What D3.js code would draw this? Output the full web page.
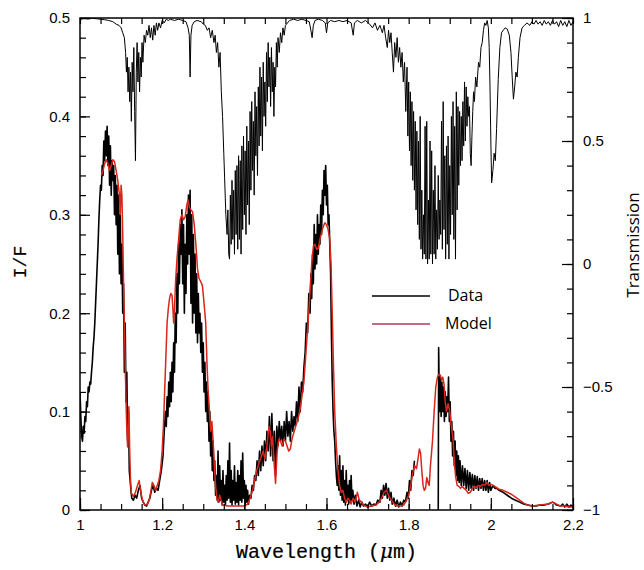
<!DOCTYPE html>
<html>
<head>
  <meta charset="utf-8">
  <title>I/F and Transmission</title>
  <script src="https://d3js.org/d3.v7.min.js"></script>
  <style>
    body { margin: 0; background: #fff; }
    .tick text { font-family: "Liberation Sans", Arial, sans-serif; font-size: 15px; fill: #000; }
    .axis path, .axis line { stroke: #000; stroke-width: 1.2px; }
    .label-mono { font-family: "Liberation Mono", "DejaVu Sans Mono", monospace; fill: #000; stroke: #000; stroke-width: 0.2px; }
    .legend text { font-family: "Open Sans", "Noto Sans", sans-serif; font-size: 16px; fill: #000; }
  </style>
</head>
<body>
  <svg width="644" height="570"></svg>
  <script>
    // telluric transmission (right axis): [wavelength um, transmission]
    const transmission = [
      [1.000,0.995],[1.010,0.998],[1.020,0.996],[1.030,0.999],[1.040,0.997],[1.050,0.995],[1.060,0.993],
      [1.070,0.990],[1.080,0.985],[1.088,0.975],[1.095,0.970],[1.100,0.960],[1.104,0.940],[1.108,0.920],
      [1.111,0.860],[1.113,0.780],[1.115,0.840],[1.117,0.700],[1.119,0.800],[1.121,0.660],[1.123,0.780],
      [1.125,0.580],[1.127,0.820],[1.129,0.700],[1.131,0.880],[1.133,0.620],[1.135,0.420],[1.137,0.780],
      [1.139,0.900],[1.141,0.740],[1.143,0.860],[1.145,0.700],[1.147,0.840],[1.149,0.760],[1.151,0.900],
      [1.153,0.820],[1.156,0.930],[1.159,0.900],[1.162,0.950],[1.165,0.930],[1.168,0.970],[1.171,0.920],
      [1.174,0.960],[1.177,0.910],[1.180,0.970],[1.183,0.930],[1.186,0.980],[1.189,0.950],[1.192,0.980],
      [1.196,0.960],[1.200,0.990],[1.205,0.980],[1.210,0.995],[1.215,0.990],[1.220,0.995],[1.230,0.990],
      [1.240,0.995],[1.250,0.990],[1.258,0.985],[1.263,0.960],[1.266,0.930],[1.268,0.760],[1.270,0.930],
      [1.273,0.970],[1.278,0.985],[1.285,0.990],[1.295,0.985],[1.300,0.975],[1.305,0.970],[1.310,0.950],
      [1.314,0.960],[1.318,0.920],[1.322,0.950],[1.326,0.900],[1.329,0.930],[1.332,0.860],[1.335,0.900],
      [1.338,0.800],[1.341,0.860],[1.344,0.700],[1.347,0.600],[1.350,0.450],[1.352,0.350],[1.355,0.200],
      [1.358,0.120],[1.360,0.220],[1.362,0.040],[1.364,0.020],[1.366,0.280],[1.368,0.080],[1.370,0.340],
      [1.372,0.100],[1.374,0.300],[1.376,0.040],[1.378,0.380],[1.380,0.120],[1.382,0.400],[1.384,0.060],
      [1.386,0.440],[1.388,0.100],[1.390,0.420],[1.392,0.040],[1.394,0.480],[1.396,0.140],[1.398,0.520],
      [1.400,0.200],[1.402,0.460],[1.404,0.120],[1.406,0.560],[1.408,0.240],[1.410,0.500],[1.412,0.160],
      [1.414,0.620],[1.416,0.300],[1.418,0.660],[1.420,0.380],[1.422,0.580],[1.424,0.280],[1.426,0.700],
      [1.428,0.440],[1.430,0.640],[1.432,0.360],[1.434,0.720],[1.436,0.480],[1.438,0.800],[1.440,0.520],
      [1.442,0.760],[1.444,0.460],[1.446,0.820],[1.448,0.600],[1.450,0.740],[1.452,0.560],[1.454,0.860],
      [1.456,0.660],[1.458,0.900],[1.460,0.720],[1.462,0.840],[1.464,0.640],[1.466,0.880],[1.468,0.700],
      [1.470,0.820],[1.472,0.600],[1.474,0.800],[1.476,0.720],[1.478,0.900],[1.480,0.800],[1.482,0.920],
      [1.485,0.860],[1.488,0.940],[1.491,0.900],[1.494,0.960],[1.497,0.930],[1.500,0.970],[1.505,0.980],
      [1.510,0.990],[1.520,0.995],[1.530,0.990],[1.540,0.995],[1.550,0.990],[1.558,0.985],[1.562,0.950],
      [1.565,0.920],[1.568,0.970],[1.572,0.990],[1.580,0.995],[1.590,0.990],[1.597,0.980],[1.600,0.940],
      [1.603,0.980],[1.610,0.990],[1.620,0.985],[1.630,0.990],[1.640,0.985],[1.650,0.990],[1.660,0.980],
      [1.665,0.930],[1.668,0.980],[1.675,0.990],[1.685,0.980],[1.695,0.990],[1.705,0.975],[1.712,0.960],
      [1.718,0.980],[1.724,0.950],[1.730,0.970],[1.736,0.940],[1.740,0.970],[1.744,0.920],[1.748,0.880],
      [1.751,0.950],[1.754,0.900],[1.757,0.940],[1.760,0.860],[1.763,0.780],[1.766,0.900],[1.769,0.840],
      [1.772,0.920],[1.775,0.820],[1.778,0.880],[1.781,0.800],[1.784,0.860],[1.787,0.740],[1.790,0.820],
      [1.793,0.620],[1.796,0.800],[1.798,0.520],[1.800,0.740],[1.802,0.460],[1.804,0.700],[1.806,0.400],
      [1.808,0.660],[1.810,0.340],[1.812,0.620],[1.814,0.300],[1.816,0.580],[1.818,0.220],[1.820,0.540],
      [1.822,0.160],[1.824,0.500],[1.826,0.100],[1.828,0.600],[1.830,0.060],[1.832,0.300],[1.834,0.020],
      [1.836,0.200],[1.838,0.040],[1.840,0.560],[1.842,0.020],[1.844,0.580],[1.846,0.000],[1.848,0.260],
      [1.850,0.020],[1.852,0.500],[1.854,0.040],[1.856,0.460],[1.858,0.000],[1.860,0.300],[1.862,0.040],
      [1.864,0.400],[1.866,0.020],[1.868,0.220],[1.870,0.060],[1.872,0.360],[1.874,0.100],[1.876,0.260],
      [1.878,0.120],[1.880,0.580],[1.882,0.060],[1.884,0.660],[1.886,0.140],[1.888,0.440],[1.890,0.020],
      [1.892,0.480],[1.894,0.080],[1.896,0.520],[1.898,0.020],[1.900,0.400],[1.902,0.120],[1.904,0.600],
      [1.906,0.200],[1.908,0.660],[1.910,0.100],[1.912,0.560],[1.914,0.020],[1.916,0.700],[1.918,0.220],
      [1.920,0.640],[1.922,0.320],[1.924,0.620],[1.926,0.400],[1.928,0.600],[1.930,0.420],[1.932,0.660],
      [1.934,0.480],[1.936,0.740],[1.938,0.500],[1.940,0.720],[1.942,0.560],[1.944,0.680],[1.946,0.600],
      [1.948,0.640],[1.950,0.450],[1.952,0.400],[1.954,0.520],[1.956,0.620],[1.958,0.700],[1.960,0.660],
      [1.963,0.760],[1.966,0.720],[1.970,0.820],[1.973,0.800],[1.976,0.880],[1.979,0.900],[1.982,0.950],
      [1.985,0.980],[1.988,0.970],[1.991,0.990],[1.994,0.960],[1.996,0.880],[1.998,0.720],[2.000,0.500],
      [2.002,0.330],[2.005,0.380],[2.008,0.450],[2.011,0.420],[2.014,0.550],[2.018,0.750],[2.022,0.880],
      [2.026,0.940],[2.030,0.950],[2.035,0.960],[2.040,0.955],[2.045,0.930],[2.049,0.860],[2.052,0.760],
      [2.055,0.670],[2.058,0.720],[2.061,0.780],[2.064,0.760],[2.067,0.840],[2.071,0.920],[2.076,0.960],
      [2.082,0.970],[2.088,0.980],[2.095,0.970],[2.100,0.985],[2.105,0.975],[2.110,0.990],[2.115,0.975],
      [2.120,0.985],[2.125,0.970],[2.130,0.990],[2.135,0.975],[2.140,0.985],[2.145,0.970],[2.150,0.990],
      [2.155,0.975],[2.160,0.985],[2.165,0.965],[2.170,0.990],[2.175,0.970],[2.180,0.985],[2.185,0.965],
      [2.190,0.990],[2.195,0.970],[2.200,0.985]
    ];

    // observed I/F (left axis); null marks the gap in the data
    const observed = [
      [1.000,0.120],[1.002,0.095],[1.004,0.075],[1.006,0.070],[1.008,0.085],[1.010,0.078],[1.012,0.095],
      [1.014,0.090],[1.016,0.110],[1.018,0.105],[1.020,0.125],[1.022,0.120],[1.024,0.130],[1.026,0.128],
      [1.028,0.140],[1.030,0.150],[1.032,0.165],[1.034,0.175],[1.036,0.190],[1.038,0.210],[1.040,0.230],
      [1.042,0.250],[1.044,0.270],[1.046,0.295],[1.048,0.315],[1.050,0.330],[1.052,0.325],[1.054,0.350],
      [1.056,0.340],[1.058,0.375],[1.060,0.355],[1.062,0.385],[1.064,0.360],[1.066,0.390],[1.068,0.350],
      [1.070,0.380],[1.072,0.330],[1.074,0.370],[1.076,0.320],[1.078,0.355],[1.080,0.335],[1.082,0.350],
      [1.084,0.300],[1.086,0.340],[1.088,0.290],[1.090,0.330],[1.092,0.260],[1.094,0.320],[1.096,0.240],
      [1.098,0.300],[1.100,0.230],[1.102,0.270],[1.104,0.200],[1.106,0.230],[1.108,0.140],[1.110,0.190],
      [1.112,0.110],[1.114,0.140],[1.116,0.070],[1.118,0.100],[1.120,0.040],[1.122,0.030],[1.124,0.020],
      [1.126,0.012],[1.130,0.010],[1.134,0.015],[1.138,0.012],[1.142,0.020],[1.146,0.025],[1.150,0.012],
      [1.154,0.008],[1.158,0.005],[1.162,0.004],[1.166,0.008],[1.170,0.012],[1.174,0.020],[1.178,0.025],
      [1.182,0.018],[1.186,0.022],[1.190,0.020],[1.194,0.030],[1.198,0.040],[1.202,0.055],[1.205,0.080],
      [1.208,0.100],[1.210,0.085],[1.212,0.115],[1.214,0.095],[1.216,0.130],[1.218,0.105],[1.220,0.140],
      [1.222,0.110],[1.224,0.150],[1.226,0.120],[1.228,0.170],[1.230,0.140],[1.232,0.200],[1.234,0.170],
      [1.236,0.240],[1.238,0.200],[1.240,0.270],[1.242,0.230],[1.244,0.290],[1.246,0.260],[1.248,0.305],
      [1.250,0.230],[1.252,0.290],[1.254,0.200],[1.256,0.270],[1.258,0.220],[1.260,0.300],[1.262,0.250],
      [1.264,0.320],[1.266,0.260],[1.268,0.325],[1.270,0.210],[1.272,0.300],[1.274,0.190],[1.276,0.280],
      [1.278,0.200],[1.280,0.260],[1.282,0.180],[1.284,0.240],[1.286,0.170],[1.288,0.220],[1.290,0.180],
      [1.292,0.200],[1.294,0.160],[1.296,0.190],[1.298,0.140],[1.300,0.170],[1.302,0.120],[1.304,0.150],
      [1.306,0.100],[1.308,0.130],[1.310,0.090],[1.312,0.120],[1.314,0.070],[1.316,0.100],[1.318,0.055],
      [1.320,0.085],[1.322,0.040],[1.324,0.070],[1.326,0.030],[1.328,0.050],[1.330,0.015],[1.332,0.035],
      [1.334,0.010],[1.336,0.060],[1.338,0.008],[1.340,0.045],[1.342,0.010],[1.344,0.030],[1.346,0.005],
      [1.348,0.040],[1.350,0.008],[1.352,0.025],[1.354,0.005],[1.356,0.035],[1.358,0.010],[1.360,0.050],
      [1.362,0.012],[1.364,0.068],[1.366,0.008],[1.368,0.040],[1.370,0.005],[1.372,0.030],[1.374,0.010],
      [1.376,0.045],[1.378,0.006],[1.380,0.028],[1.382,0.008],[1.384,0.040],[1.386,0.005],[1.388,0.035],
      [1.390,0.010],[1.392,0.050],[1.394,0.008],[1.396,0.058],[1.398,0.012],[1.400,0.030],[1.402,0.006],
      [1.404,0.025],[1.406,0.008],[1.408,0.020],[1.410,0.006],[1.413,0.015],[1.416,0.012],[1.419,0.025],
      [1.422,0.020],[1.425,0.035],[1.428,0.030],[1.431,0.050],[1.434,0.035],[1.437,0.060],[1.440,0.040],
      [1.443,0.065],[1.446,0.045],[1.449,0.070],[1.452,0.050],[1.455,0.080],[1.458,0.060],[1.461,0.095],
      [1.464,0.055],[1.467,0.098],[1.470,0.050],[1.473,0.080],[1.476,0.035],[1.479,0.085],[1.482,0.065],
      [1.485,0.090],[1.488,0.070],[1.491,0.085],[1.494,0.065],[1.497,0.090],[1.500,0.070],[1.503,0.100],
      [1.506,0.075],[1.509,0.090],[1.512,0.070],[1.515,0.100],[1.518,0.080],[1.521,0.095],[1.524,0.085],
      [1.527,0.110],[1.530,0.090],[1.533,0.125],[1.536,0.100],[1.539,0.130],[1.542,0.120],[1.545,0.145],
      [1.548,0.160],[1.551,0.190],[1.554,0.180],[1.557,0.220],[1.560,0.200],[1.562,0.240],[1.564,0.215],
      [1.566,0.260],[1.568,0.230],[1.570,0.290],[1.572,0.245],[1.574,0.280],[1.576,0.250],[1.578,0.300],
      [1.580,0.260],[1.582,0.290],[1.584,0.270],[1.586,0.310],[1.588,0.280],[1.590,0.325],[1.592,0.300],
      [1.594,0.345],[1.596,0.320],[1.598,0.350],[1.600,0.310],[1.602,0.330],[1.604,0.290],[1.606,0.300],
      [1.608,0.270],[1.610,0.240],[1.612,0.180],[1.614,0.130],[1.616,0.100],[1.618,0.080],[1.620,0.070],
      [1.622,0.050],[1.624,0.035],[1.626,0.025],[1.628,0.045],[1.630,0.020],[1.632,0.055],[1.634,0.015],
      [1.636,0.040],[1.638,0.010],[1.640,0.045],[1.642,0.008],[1.644,0.030],[1.646,0.005],[1.648,0.040],
      [1.650,0.010],[1.652,0.025],[1.654,0.006],[1.656,0.030],[1.658,0.008],[1.660,0.035],[1.662,0.010],
      [1.664,0.020],[1.667,0.006],[1.670,0.015],[1.674,0.004],[1.678,0.010],[1.682,0.003],[1.686,0.008],
      [1.690,0.004],[1.695,0.006],[1.700,0.003],[1.705,0.008],[1.710,0.004],[1.715,0.006],[1.720,0.005],
      [1.725,0.010],[1.730,0.008],[1.733,0.020],[1.736,0.012],[1.739,0.025],[1.742,0.015],[1.745,0.027],
      [1.748,0.012],[1.751,0.022],[1.754,0.010],[1.757,0.018],[1.760,0.006],[1.764,0.012],[1.768,0.004],
      [1.772,0.010],[1.776,0.003],[1.780,0.008],[1.784,0.004],[1.788,0.010],[1.792,0.008],[1.796,0.018],
      [1.799,0.012],[1.802,0.030],[1.805,0.020],[1.808,0.040],[1.811,0.035],[1.814,0.050],
      [1.840,null],
      [1.872,0.000],[1.873,0.165],[1.875,0.100],[1.877,0.135],[1.879,0.095],[1.881,0.130],[1.883,0.100],
      [1.885,0.125],[1.887,0.090],[1.889,0.120],[1.891,0.095],[1.893,0.115],[1.895,0.100],[1.897,0.135],
      [1.899,0.090],[1.901,0.110],[1.903,0.070],[1.905,0.090],[1.907,0.055],[1.909,0.080],[1.911,0.045],
      [1.913,0.070],[1.915,0.035],[1.917,0.060],[1.919,0.030],[1.921,0.055],[1.923,0.028],[1.925,0.050],
      [1.928,0.025],[1.931,0.045],[1.934,0.025],[1.937,0.042],[1.940,0.022],[1.943,0.040],[1.946,0.020],
      [1.949,0.038],[1.952,0.022],[1.955,0.036],[1.958,0.020],[1.961,0.035],[1.964,0.022],[1.967,0.034],
      [1.970,0.020],[1.973,0.032],[1.976,0.022],[1.979,0.032],[1.982,0.020],[1.985,0.030],[1.988,0.020],
      [1.991,0.030],[1.994,0.018],[1.997,0.028],[2.000,0.020],[2.005,0.025],[2.010,0.022],[2.015,0.022],
      [2.020,0.020],[2.030,0.018],[2.040,0.015],[2.050,0.012],[2.060,0.010],[2.070,0.008],[2.080,0.006],
      [2.090,0.005],[2.100,0.004],[2.110,0.004],[2.120,0.005],[2.130,0.005],[2.140,0.006],[2.150,0.008],
      [2.155,0.007],[2.160,0.005],[2.170,0.004],[2.175,0.006],[2.180,0.003],[2.185,0.006],[2.190,0.003],
      [2.195,0.005],[2.200,0.003]
    ];

    // model I/F (left axis)
    const model = [
      [1.052,0.340],[1.056,0.345],[1.060,0.352],[1.064,0.356],[1.068,0.352],[1.072,0.345],[1.076,0.350],
      [1.080,0.356],[1.084,0.354],[1.088,0.345],[1.092,0.335],[1.096,0.320],[1.098,0.300],[1.100,0.330],
      [1.102,0.320],[1.104,0.280],[1.106,0.230],[1.108,0.190],[1.110,0.150],[1.112,0.110],[1.114,0.080],
      [1.116,0.064],[1.118,0.090],[1.119,0.105],[1.121,0.060],[1.123,0.030],[1.125,0.017],[1.130,0.014],
      [1.135,0.018],[1.140,0.025],[1.144,0.030],[1.148,0.018],[1.152,0.010],[1.156,0.006],[1.160,0.005],
      [1.164,0.006],[1.168,0.010],[1.172,0.018],[1.176,0.028],[1.180,0.025],[1.184,0.020],[1.188,0.025],
      [1.192,0.030],[1.196,0.040],[1.200,0.060],[1.203,0.085],[1.206,0.120],[1.209,0.155],[1.212,0.190],
      [1.215,0.205],[1.218,0.215],[1.221,0.220],[1.224,0.218],[1.226,0.205],[1.228,0.190],[1.230,0.205],
      [1.233,0.235],[1.236,0.255],[1.240,0.275],[1.244,0.295],[1.248,0.300],[1.252,0.295],[1.256,0.298],
      [1.260,0.310],[1.263,0.315],[1.266,0.308],[1.270,0.305],[1.274,0.303],[1.278,0.290],[1.282,0.270],
      [1.286,0.245],[1.290,0.235],[1.294,0.232],[1.298,0.228],[1.302,0.210],[1.306,0.190],[1.309,0.150],
      [1.312,0.120],[1.315,0.100],[1.318,0.080],[1.321,0.090],[1.324,0.070],[1.327,0.045],[1.330,0.025],
      [1.333,0.012],[1.336,0.008],[1.340,0.015],[1.343,0.010],[1.348,0.005],[1.360,0.004],[1.380,0.004],
      [1.400,0.004],[1.408,0.006],[1.414,0.012],[1.420,0.020],[1.425,0.030],[1.430,0.040],[1.436,0.048],
      [1.442,0.055],[1.446,0.060],[1.450,0.052],[1.455,0.065],[1.460,0.085],[1.463,0.080],[1.466,0.065],
      [1.469,0.075],[1.472,0.050],[1.476,0.027],[1.480,0.060],[1.484,0.072],[1.488,0.070],[1.492,0.065],
      [1.496,0.072],[1.500,0.070],[1.504,0.065],[1.508,0.060],[1.512,0.062],[1.516,0.072],[1.520,0.078],
      [1.525,0.085],[1.530,0.092],[1.535,0.100],[1.540,0.115],[1.545,0.130],[1.550,0.160],[1.555,0.190],
      [1.560,0.222],[1.564,0.250],[1.568,0.268],[1.572,0.270],[1.576,0.265],[1.580,0.266],[1.584,0.275],
      [1.588,0.282],[1.592,0.288],[1.596,0.292],[1.600,0.290],[1.604,0.285],[1.608,0.275],[1.611,0.250],
      [1.614,0.200],[1.617,0.146],[1.620,0.100],[1.624,0.065],[1.628,0.040],[1.632,0.025],[1.636,0.018],
      [1.640,0.020],[1.644,0.012],[1.648,0.008],[1.652,0.012],[1.656,0.010],[1.660,0.006],[1.665,0.012],
      [1.670,0.008],[1.675,0.018],[1.680,0.010],[1.685,0.008],[1.690,0.005],[1.700,0.003],[1.710,0.004],
      [1.720,0.005],[1.728,0.008],[1.734,0.012],[1.740,0.018],[1.746,0.020],[1.752,0.014],[1.758,0.010],
      [1.765,0.006],[1.772,0.004],[1.780,0.004],[1.788,0.005],[1.795,0.010],[1.800,0.015],[1.805,0.025],
      [1.810,0.038],[1.815,0.045],[1.819,0.042],[1.822,0.050],[1.826,0.062],[1.829,0.058],[1.832,0.040],
      [1.835,0.025],[1.838,0.020],[1.841,0.022],[1.844,0.033],[1.847,0.028],[1.850,0.025],[1.853,0.045],
      [1.858,0.070],[1.862,0.100],[1.866,0.125],[1.870,0.135],[1.874,0.138],[1.877,0.137],[1.880,0.132],
      [1.883,0.135],[1.886,0.128],[1.889,0.110],[1.892,0.100],[1.896,0.108],[1.900,0.100],[1.904,0.085],
      [1.908,0.072],[1.911,0.050],[1.914,0.035],[1.918,0.025],[1.922,0.024],[1.926,0.022],[1.930,0.024],
      [1.935,0.022],[1.940,0.020],[1.945,0.017],[1.950,0.018],[1.955,0.022],[1.960,0.024],[1.965,0.023],
      [1.970,0.025],[1.975,0.024],[1.980,0.026],[1.985,0.025],[1.990,0.028],[1.995,0.025],[2.000,0.026],
      [2.010,0.024],[2.020,0.021],[2.030,0.020],[2.040,0.018],[2.050,0.016],[2.060,0.013],[2.070,0.010],
      [2.080,0.007],[2.090,0.005],[2.100,0.004],[2.120,0.005],[2.140,0.006],[2.150,0.008],[2.160,0.006],
      [2.170,0.004],[2.180,0.004],[2.190,0.003],[2.200,0.003]
    ];

    const xTicks = [1, 1.2, 1.4, 1.6, 1.8, 2, 2.2];
    const leftTicks = [0, 0.1, 0.2, 0.3, 0.4, 0.5];
    const rightTicks = [-1, -0.5, 0, 0.5, 1];
    const legendItems = [
      { label: "Data", color: "#000" },
      { label: "Model", color: "#b23a5c" }
    ];

    const svg = d3.select("svg");
    const m = { left: 80, right: 573, top: 18, bottom: 510 };

    const x = d3.scaleLinear().domain([1, 2.2]).range([m.left, m.right]);
    const yL = d3.scaleLinear().domain([0, 0.5]).range([m.bottom, m.top]);
    const yR = d3.scaleLinear().domain([-1, 1]).range([m.bottom, m.top]);

    svg.append("clipPath").attr("id", "plot-clip")
      .append("rect")
      .attr("x", m.left).attr("y", m.top)
      .attr("width", m.right - m.left).attr("height", m.bottom - m.top);

    const plot = svg.append("g").attr("clip-path", "url(#plot-clip)");

    const lineT = d3.line().x(d => x(d[0])).y(d => yR(d[1]));
    const lineI = d3.line().defined(d => d[1] !== null).x(d => x(d[0])).y(d => yL(d[1]));

    plot.append("path").datum(transmission)
      .attr("d", lineT).attr("fill", "none")
      .attr("stroke", "#000").attr("stroke-width", 1).attr("stroke-linejoin", "round");

    plot.append("path").datum(observed)
      .attr("d", lineI).attr("fill", "none")
      .attr("stroke", "#000").attr("stroke-width", 1.6).attr("stroke-linejoin", "round");

    plot.append("path").datum(model)
      .attr("d", lineI).attr("fill", "none")
      .attr("stroke", "#d8261c").attr("stroke-width", 1.5).attr("stroke-linejoin", "round");

    // minor ticks
    const xMinor = d3.range(1, 2.2001, 0.05);
    const lMinor = d3.range(0, 0.5001, 0.02);
    const rMinor = d3.range(-1, 1.0001, 0.1);

    svg.append("g").attr("class", "axis").attr("transform", `translate(0,${m.bottom})`)
      .call(d3.axisBottom(x).tickValues(xMinor).tickSize(-6).tickFormat(""))
      .call(g => g.select(".domain").remove());
    svg.append("g").attr("class", "axis").attr("transform", `translate(0,${m.top})`)
      .call(d3.axisTop(x).tickValues(xMinor).tickSize(-6).tickFormat(""))
      .call(g => g.select(".domain").remove());
    svg.append("g").attr("class", "axis").attr("transform", `translate(${m.left},0)`)
      .call(d3.axisLeft(yL).tickValues(lMinor).tickSize(-6).tickFormat(""))
      .call(g => g.select(".domain").remove());
    svg.append("g").attr("class", "axis").attr("transform", `translate(${m.right},0)`)
      .call(d3.axisRight(yR).tickValues(rMinor).tickSize(-6).tickFormat(""))
      .call(g => g.select(".domain").remove());

    // major ticks with labels
    svg.append("g").attr("class", "axis").attr("transform", `translate(0,${m.bottom})`)
      .call(d3.axisBottom(x).tickValues(xTicks).tickSize(-12).tickPadding(9).tickFormat(d3.format("")))
      .call(g => g.select(".domain").remove());
    svg.append("g").attr("class", "axis").attr("transform", `translate(${m.left},0)`)
      .call(d3.axisLeft(yL).tickValues(leftTicks).tickSize(-10).tickPadding(10).tickFormat(d3.format("")))
      .call(g => g.select(".domain").remove());
    svg.append("g").attr("class", "axis").attr("transform", `translate(${m.right},0)`)
      .call(d3.axisRight(yR).tickValues(rightTicks).tickSize(-11).tickPadding(10)
        .tickFormat(d => (d < 0 ? "\u2212" : "") + Math.abs(d)))
      .call(g => g.select(".domain").remove());

    // frame
    svg.append("rect")
      .attr("x", m.left).attr("y", m.top)
      .attr("width", m.right - m.left).attr("height", m.bottom - m.top)
      .attr("fill", "none").attr("stroke", "#000").attr("stroke-width", 1.5);

    // axis titles
    const xt = svg.append("text").attr("class", "label-mono")
      .attr("x", (m.left + m.right) / 2).attr("y", 558)
      .attr("text-anchor", "middle").attr("font-size", 20);
    xt.append("tspan").text("Wavelength (");
    xt.append("tspan").attr("font-style", "italic").attr("font-family", "DejaVu Serif, serif").text("\u03bc");
    xt.append("tspan").text("m)");

    svg.append("text").attr("class", "label-mono")
      .attr("transform", "translate(26,262) rotate(-90)")
      .attr("text-anchor", "middle").attr("font-size", 18)
      .text("I/F");

    svg.append("text")
      .attr("transform", "translate(639,245) rotate(-90)")
      .attr("text-anchor", "middle")
      .attr("font-family", "Open Sans, Noto Sans, sans-serif").attr("font-size", 17)
      .text("Transmission");

    // legend
    const legend = svg.append("g").attr("class", "legend");
    legendItems.forEach((d, i) => {
      const ly = 296 + i * 28;
      legend.append("line")
        .attr("x1", 372).attr("x2", 430).attr("y1", ly).attr("y2", ly)
        .attr("stroke", d.color).attr("stroke-width", 1.4);
      legend.append("text")
        .attr("x", i === 0 ? 448 : 445).attr("y", ly + 5)
        .text(d.label);
    });
  </script>
</body>
</html>
